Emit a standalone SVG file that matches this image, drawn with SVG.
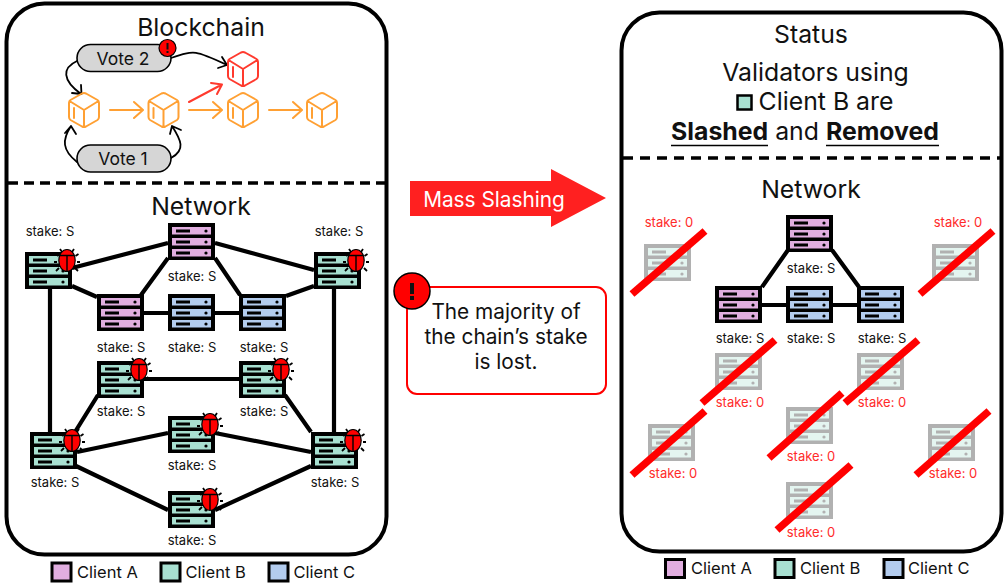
<svg xmlns="http://www.w3.org/2000/svg" xmlns:xlink="http://www.w3.org/1999/xlink" width="1004" height="586" viewBox="0 0 1004 586">
<style>
text{font-family:Inter,"Noto Sans","Liberation Sans",sans-serif;fill:#111;text-anchor:middle}
.t{font-size:24.800px}.n{font-size:20.800px}.s{font-size:13px}.z{font-size:13px;fill:#ff2a2a}
.l{font-size:16.500px;text-anchor:start}
.panel{fill:#fff;stroke:#000;stroke-width:4}
.e{stroke:#000;stroke-width:4.200;fill:none}
.a{stroke:#000;stroke-width:1.800;fill:none;stroke-linecap:round;stroke-linejoin:round}
.o{stroke:#ffa033;stroke-width:2;fill:none;stroke-linecap:round;stroke-linejoin:round}
.r{stroke:#ff3a2e;stroke-width:2;fill:none;stroke-linecap:round;stroke-linejoin:round}
.x{stroke:#f00;stroke-width:7.500}
.pill{fill:#d6d6d6;stroke:#000;stroke-width:1.600}
.sw{stroke:#000;stroke-width:3}
.ca{fill:#e1aee0}.cb{fill:#a8e0d1}.cc{fill:#b3ccee}
.dead{opacity:.3}
.v{font-size:17.500px}
</style>
<defs>
<g id="rowbars">
<rect x="8" y="6.500" width="14" height="3"/><rect x="8" y="17.500" width="14" height="3"/><rect x="8" y="28.500" width="14" height="3"/>
<circle cx="38" cy="8" r="1.600"/><circle cx="38" cy="19" r="1.600"/><circle cx="38" cy="30" r="1.600"/>
</g>
<g id="srvA"><rect width="47" height="37"/><g class="ca"><rect x="4" y="4" width="39" height="7.500"/><rect x="4" y="15" width="39" height="7.500"/><rect x="4" y="26" width="39" height="7.500"/></g><use href="#rowbars"/></g>
<g id="srvB"><rect width="47" height="37"/><g class="cb"><rect x="4" y="4" width="39" height="7.500"/><rect x="4" y="15" width="39" height="7.500"/><rect x="4" y="26" width="39" height="7.500"/></g><use href="#rowbars"/></g>
<g id="srvC"><rect width="47" height="37"/><g class="cc"><rect x="4" y="4" width="39" height="7.500"/><rect x="4" y="15" width="39" height="7.500"/><rect x="4" y="26" width="39" height="7.500"/></g><use href="#rowbars"/></g>
<g id="bug">
<path d="M37 0L35 -3M47 0L49 -3M33.500 4L30.500 2M50.500 4L53.500 2M32 10H29M52 10H55M34 16L31 19M50 16L53 19" stroke="#000" stroke-width="1.800" fill="none"/>
<ellipse cx="42" cy="8.500" rx="8.200" ry="11" fill="#f00" stroke="#000" stroke-width="1.200"/>
<path d="M34.500 3.500H49.500M42 3.500V19" stroke="#000" stroke-width="1.400" fill="none"/>
</g>
<g id="srvBug"><use href="#srvB"/><use href="#bug"/></g>
<g id="cube"><path d="M-2 -16.500Q0 -17.500 2 -16.500L13.500 -10Q15 -9 15 -7V7Q15 9 13.500 10L2 16.500Q0 17.500 -2 16.500L-13.500 10Q-15 9 -15 7V-7Q-15 -9 -13.500 -10ZM-14.500 -9L0 0L14.500 -9M0 0V17M-10 -2V8"/></g>
<g id="alert"><circle r="8.500" fill="#f00" stroke="#000" stroke-width="1.200"/><rect x="-1" y="-5" width="2" height="6.500" fill="#111"/><rect x="-1" y="3" width="2" height="2" fill="#111"/></g>
</defs>

<rect x="6.500" y="3.500" width="380" height="551" rx="38" class="panel"/>
<rect x="621.500" y="12.500" width="380" height="539" rx="38" class="panel"/>
<path d="M8 183H386" stroke="#000" stroke-width="3.500" stroke-dasharray="10 6" fill="none"/>
<path d="M623 158H1000" stroke="#000" stroke-width="3.500" stroke-dasharray="10 7" fill="none"/>

<g id="connectors">
<g id="left-network-edges">
<path class="e" d="M72 268L168 243M215 243L314 270M168 258L141 295M215 258L240 295M72 286L97 297M286 296L314 286M144 313H168M215 313H239M50 289V432M334 289V432M144 379H239M98 395L75 432M285 395L311 432M77 452L168 433M215 433L311 452M76 466L168 510M215 510L311 466"/>
</g>
<g id="right-network-edges">
<path class="e" d="M788 250L762 287M832 250L859 287M762 305H857"/>
</g>
<g id="chain-edges">
<path class="o" d="M110 110H142M134 102L143 110L134 118M189 110H221M213 102L222 110L213 118M269 110H301M293 102L302 110L293 118"/>
<path class="r" d="M189 102L221 85M211 83L222 84.500L217 94"/>
<path class="a" d="M77 61C62 68 62 80 81 94M72 93L81.500 94L81 85"/>
<path class="a" d="M171 58C195 50 195 50 227 65M218 68L227 65L222 57"/>
<path class="a" d="M77 162C62 150 62 140 71 126M65 133L71 126L76 134"/>
<path class="a" d="M171 158C186 150 181 140 172 126M170 134L172 126L181 130"/>
</g>
</g>

<g id="title-left"><text class="t" x="201" y="36">Blockchain</text></g>
<g id="vote2"><rect x="77" y="44.500" width="94" height="27" rx="13.500" class="pill"/><text class="v" x="123" y="65">Vote 2</text><use href="#alert" x="167.500" y="48"/></g>
<g id="vote1"><rect x="77" y="145" width="94" height="27" rx="13.500" class="pill"/><text class="v" x="123" y="165">Vote 1</text></g>
<g id="block1" class="o"><use href="#cube" x="84" y="110"/></g>
<g id="block2" class="o"><use href="#cube" x="163.500" y="110"/></g>
<g id="block3" class="o"><use href="#cube" x="243" y="110"/></g>
<g id="block4" class="o"><use href="#cube" x="322" y="110"/></g>
<g id="block-fork" class="r"><use href="#cube" x="243" y="69"/></g>
<g id="title-network-left"><text class="t" x="201" y="215">Network</text></g>

<g id="L-a-top"><use href="#srvA" x="168" y="223"/><text class="s" x="192" y="281">stake: S</text></g>
<g id="L-b-left"><use href="#srvBug" x="25" y="252"/><text class="s" x="50" y="236">stake: S</text></g>
<g id="L-b-right"><use href="#srvBug" x="314" y="252"/><text class="s" x="339" y="236">stake: S</text></g>
<g id="L-a-mid"><use href="#srvA" x="97" y="294"/><text class="s" x="121" y="352">stake: S</text></g>
<g id="L-c-mid"><use href="#srvC" x="168" y="294"/><text class="s" x="192" y="352">stake: S</text></g>
<g id="L-c-right"><use href="#srvC" x="239" y="294"/><text class="s" x="264" y="352">stake: S</text></g>
<g id="L-b-r3l"><use href="#srvBug" x="97" y="361"/><text class="s" x="121" y="416">stake: S</text></g>
<g id="L-b-r3r"><use href="#srvBug" x="239" y="361"/><text class="s" x="264" y="416">stake: S</text></g>
<g id="L-b-ll"><use href="#srvBug" x="30" y="432"/><text class="s" x="55" y="487">stake: S</text></g>
<g id="L-b-c"><use href="#srvBug" x="168" y="416"/><text class="s" x="192" y="470">stake: S</text></g>
<g id="L-b-lr"><use href="#srvBug" x="311" y="432"/><text class="s" x="335" y="487">stake: S</text></g>
<g id="L-b-bot"><use href="#srvBug" x="168" y="491"/><text class="s" x="192" y="545">stake: S</text></g>

<g id="legend-left">
<rect x="52" y="563" width="19" height="18" class="sw ca"/><text class="l" x="77" y="578">Client A</text>
<rect x="161" y="563" width="19" height="18" class="sw cb"/><text class="l" x="185.500" y="578">Client B</text>
<rect x="269" y="563" width="19" height="18" class="sw cc"/><text class="l" x="293.500" y="578">Client C</text>
</g>

<g id="mass-slashing"><path d="M410 181H551V169L606 198L551 227V216H410Z" fill="#ff2020"/><text x="494" y="207" style="font-size:20.800px;fill:#fff">Mass Slashing</text></g>
<g id="note"><rect x="407" y="287" width="199" height="107" rx="10" fill="#fff" stroke="#f00" stroke-width="2"/>
<text class="n" x="506" y="319">The majority of</text><text class="n" x="506" y="344">the chain’s stake</text><text class="n" x="506" y="369">is lost.</text>
<circle cx="412" cy="291" r="18" fill="#f00" stroke="#000" stroke-width="1.500"/><rect x="410" y="283" width="4" height="11" fill="#111"/><rect x="410" y="296" width="4" height="4" fill="#111"/></g>

<g id="status">
<text class="t" x="811" y="43">Status</text>
<text class="t" x="815.500" y="81">Validators using</text>
<rect x="737.500" y="95.500" width="14" height="14" class="cb" stroke="#000" stroke-width="2.500"/>
<text class="t" x="826" y="110">Client B are</text>
<text class="t" x="805" y="140"><tspan font-weight="700">Slashed</tspan> and <tspan font-weight="700">Removed</tspan></text>
<path d="M671 145.500H768M826 145.500H939" stroke="#000" stroke-width="1.500"/>
<text class="t" x="811" y="198">Network</text>
</g>

<g id="R-a-top"><use href="#srvA" x="786" y="215"/><text class="s" x="811" y="273">stake: S</text></g>
<g id="R-a-mid"><use href="#srvA" x="715" y="286"/><text class="s" x="740" y="343">stake: S</text></g>
<g id="R-c-mid"><use href="#srvC" x="786" y="286"/><text class="s" x="811" y="343">stake: S</text></g>
<g id="R-c-right"><use href="#srvC" x="857" y="286"/><text class="s" x="882" y="343">stake: S</text></g>

<g id="R-d1"><use href="#srvB" class="dead" x="644" y="244"/><text class="z" x="669" y="227">stake: 0</text><path class="x" d="M632 294L705 231"/></g>
<g id="R-d2"><use href="#srvB" class="dead" x="932" y="244"/><text class="z" x="958" y="227">stake: 0</text><path class="x" d="M920 294L993 231"/></g>
<g id="R-d3"><use href="#srvB" class="dead" x="715" y="353"/><text class="z" x="740" y="407">stake: 0</text><path class="x" d="M702 403L775 340"/></g>
<g id="R-d4"><use href="#srvB" class="dead" x="857" y="353"/><text class="z" x="882" y="407">stake: 0</text><path class="x" d="M845 403L918 340"/></g>
<g id="R-d5"><use href="#srvB" class="dead" x="648" y="424"/><text class="z" x="673" y="478">stake: 0</text><path class="x" d="M632 475L705 411"/></g>
<g id="R-d6"><use href="#srvB" class="dead" x="786" y="407"/><text class="z" x="811" y="461">stake: 0</text><path class="x" d="M769 458L842 393"/></g>
<g id="R-d7"><use href="#srvB" class="dead" x="928" y="424"/><text class="z" x="953" y="478">stake: 0</text><path class="x" d="M916 475L989 411"/></g>
<g id="R-d8"><use href="#srvB" class="dead" x="786" y="482"/><text class="z" x="811" y="537">stake: 0</text><path class="x" d="M777 530L851 465"/></g>

<g id="legend-right">
<rect x="665.500" y="559.500" width="19" height="18" class="sw ca"/><text class="l" x="691" y="574">Client A</text>
<rect x="775" y="559.500" width="19" height="18" class="sw cb"/><text class="l" x="800" y="574">Client B</text>
<rect x="884" y="559.500" width="19" height="18" class="sw cc"/><text class="l" x="908" y="574">Client C</text>
</g>
</svg>
